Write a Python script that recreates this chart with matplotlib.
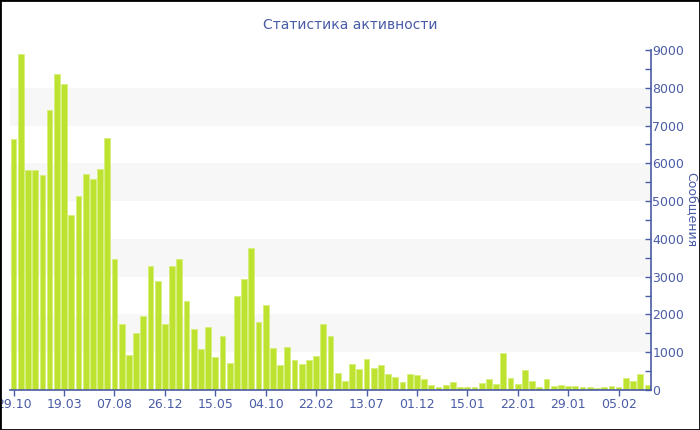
import matplotlib
matplotlib.use("Agg")
import matplotlib.pyplot as plt
from matplotlib.patches import Rectangle
from matplotlib.ticker import MultipleLocator

# messages per period
counts = [
    6650, 8900, 5830, 5830, 5690, 7400, 8360, 8090, 4620, 5140,
    5720, 5580, 5850, 6670, 3470, 1760, 925, 1520, 1970, 3270,
    2890, 1760, 3270, 3470, 2360, 1615, 1090, 1660, 870, 1430,
    720, 2480, 2930, 3760, 1790, 2260, 1110, 655, 1140, 800,
    680, 805, 910, 1755, 1440, 440, 245, 680, 560, 815,
    590, 670, 430, 345, 200, 415, 395, 300, 145, 75,
    145, 200, 80, 90, 90, 175, 290, 170, 970, 310,
    155, 530, 240, 90, 290, 105, 130, 105, 105, 80,
    80, 50, 70, 105, 80, 325, 250, 415, 130,
]
tick_labels = ["29.10", "19.03", "07.08", "26.12", "15.05", "04.10", "22.02",
               "13.07", "01.12", "15.01", "22.01", "29.01", "05.02"]
tick_step = 7

title = "Статистика активности"
ylabel = "Сообщения"

blue = "#4a5ca6"
bar_face = "#bde22f"
bar_edge = "#d6ef80"

fig = plt.figure(figsize=(7, 4.3), dpi=100)
ax = fig.add_axes([10 / 700, 40 / 430, 641 / 700, 340 / 430])

n = len(counts)
for lo in range(1000, 9000, 2000):
    ax.axhspan(lo, lo + 1000, color="#f7f7f7", zorder=0, lw=0)

ax.bar(range(n), counts, width=0.8, color=bar_face, edgecolor=bar_edge,
       linewidth=0.7, zorder=2)

ax.set_xlim(-0.5, n - 0.5)
ax.set_ylim(0, 9000)

ax.set_xticks(range(0, n, tick_step))
ax.set_xticklabels(tick_labels)
ax.yaxis.set_major_locator(MultipleLocator(1000))
ax.yaxis.set_minor_locator(MultipleLocator(500))
ax.yaxis.tick_right()

for s in ("top", "left"):
    ax.spines[s].set_visible(False)
for s in ("bottom", "right"):
    ax.spines[s].set_color(blue)
    ax.spines[s].set_linewidth(1.2)

ax.tick_params(axis="x", colors=blue, labelsize=9, length=4, width=1, pad=2)
ax.tick_params(axis="y", which="both", colors=blue, labelsize=9,
               direction="in", length=4, width=1, pad=1)

fig.text(0.5, 405 / 430, title, ha="center", va="center",
         color=blue, fontsize=10)
fig.text(691 / 700, 220 / 430, ylabel, ha="center", va="center",
         rotation=-90, color=blue, fontsize=9)

fig.patches.append(Rectangle((0, 0), 1, 1, transform=fig.transFigure,
                             fill=False, edgecolor="black", lw=2))

fig.savefig("out.png", dpi=100)
